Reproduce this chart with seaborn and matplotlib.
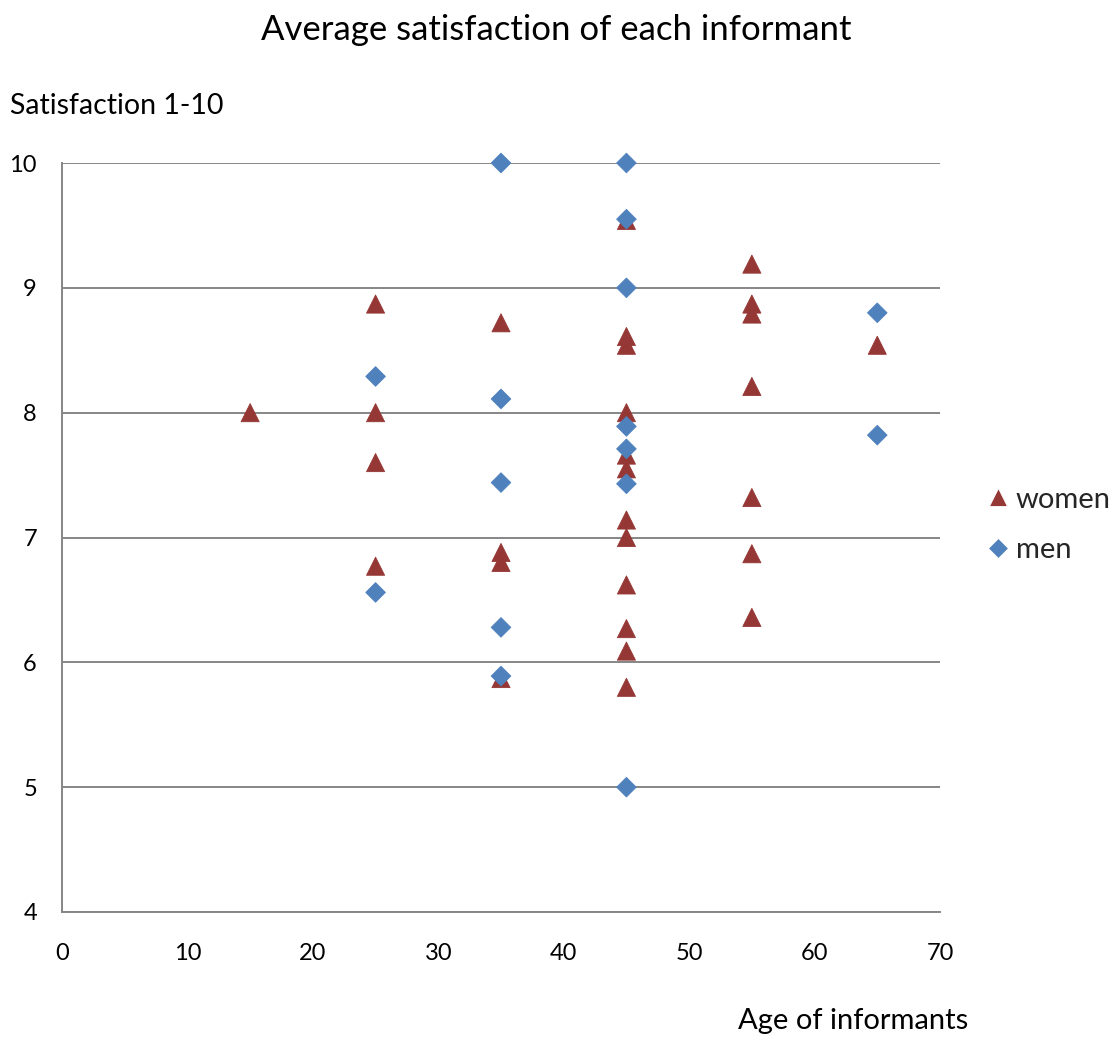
import matplotlib
matplotlib.use("Agg")
import matplotlib.pyplot as plt
import pandas as pd
import seaborn as sns

# Average satisfaction (1-10) per informant, by age group
women_age = [15,
             25, 25, 25, 25,
             35, 35, 35, 35,
             45, 45, 45, 45, 45, 45, 45, 45, 45, 45, 45, 45,
             55, 55, 55, 55, 55, 55, 55,
             65]
women_sat = [8.00,
             8.87, 8.00, 7.60, 6.77,
             8.72, 6.88, 6.80, 5.87,
             9.54, 8.61, 8.54, 8.00, 7.66, 7.55, 7.14, 7.00, 6.62, 6.27, 6.09, 5.80,
             9.19, 8.87, 8.79, 8.21, 7.32, 6.87, 6.36,
             8.54]

men_age = [25, 25,
           35, 35, 35, 35, 35,
           45, 45, 45, 45, 45, 45, 45,
           65, 65]
men_sat = [8.29, 6.56,
           10.00, 8.11, 7.44, 6.28, 5.89,
           10.00, 9.55, 9.00, 7.89, 7.71, 7.43, 5.00,
           8.80, 7.82]

groups = ["women", "men"]
x_ticks = [0, 10, 20, 30, 40, 50, 60, 70]
y_ticks = [4, 5, 6, 7, 8, 9, 10]

df = pd.concat([
    pd.DataFrame({"age": women_age, "satisfaction": women_sat, "group": "women"}),
    pd.DataFrame({"age": men_age, "satisfaction": men_sat, "group": "men"}),
], ignore_index=True)

sns.set_style("white")
plt.rcParams["font.family"] = ["Lato", "DejaVu Sans"]

GRAY = "#868686"
palette = {"women": "#953735", "men": "#4F81BD"}
markers = {"women": "^", "men": "D"}
marker_sizes = {"women": 170, "men": 100}

fig = plt.figure(figsize=(11.15, 10.37), dpi=100)
ax = fig.add_axes([62 / 1115, 1 - 912 / 1037, (940 - 62) / 1115, (912 - 163) / 1037])

sns.scatterplot(data=df, x="age", y="satisfaction", hue="group", style="group",
                size="group", hue_order=groups, style_order=groups,
                size_order=groups, sizes=marker_sizes, palette=palette,
                markers=markers, linewidth=0.6, ax=ax, zorder=3, clip_on=False)
# edge in the same hue as the fill
for coll in ax.collections:
    coll.set_edgecolor(coll.get_facecolor())

ax.set_xlim(0, 70)
ax.set_ylim(4, 10)
ax.set_xticks(x_ticks)
ax.set_yticks(y_ticks)
ax.set_xlabel("")
ax.set_ylabel("")

ax.grid(axis="y", color=GRAY, linewidth=1.4, zorder=0)
ax.set_axisbelow(True)
for side in ("top", "right"):
    ax.spines[side].set_visible(False)
for side in ("left", "bottom"):
    ax.spines[side].set_color(GRAY)
    ax.spines[side].set_linewidth(1.4)

ax.tick_params(axis="both", which="major", direction="out", length=6,
               width=1.4, color=GRAY, labelsize=17, labelcolor="black")
ax.tick_params(axis="y", pad=12)
ax.tick_params(axis="x", pad=16)

fig.text(0.499, 0.971, "Average satisfaction of each informant",
         ha="center", va="center", fontsize=25, color="black")
fig.text(0.009, 0.8975, "Satisfaction 1-10", ha="left", va="center",
         fontsize=20.5, color="black")
fig.text(0.7655, 0.0154, "Age of informants", ha="center", va="center",
         fontsize=21, color="black")

sns.move_legend(ax, "center left", bbox_to_anchor=(0.882, 0.4937),
                bbox_transform=fig.transFigure, frameon=False, title=None,
                fontsize=21, borderpad=0, borderaxespad=0,
                handletextpad=0.1, handlelength=1.0, labelspacing=0.85)

fig.savefig("out.png", dpi=100)
